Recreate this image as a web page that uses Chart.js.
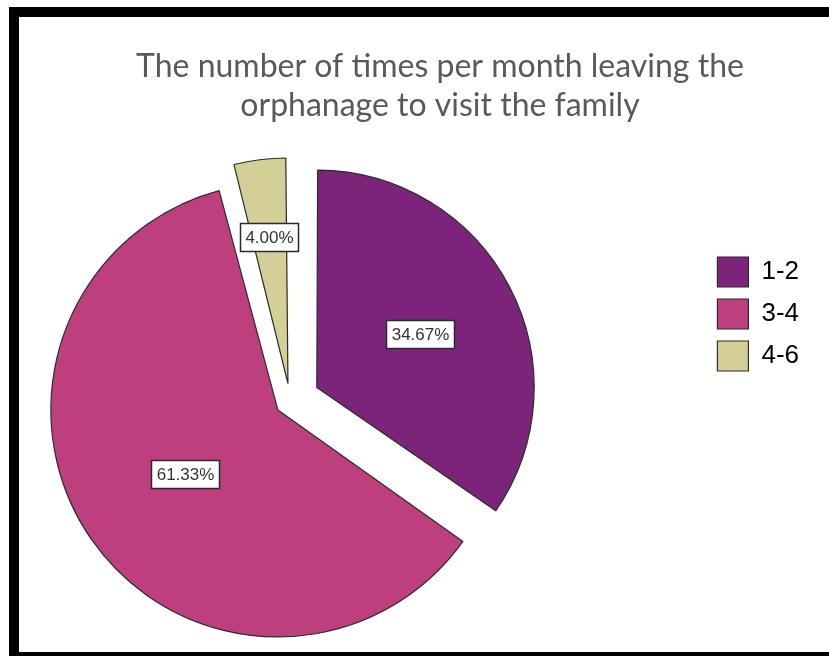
<!DOCTYPE html>
<html><head><meta charset="utf-8">
<script src="https://cdn.jsdelivr.net/npm/chart.js@4.4.1/dist/chart.umd.min.js"></script>
<style>
html,body{margin:0;padding:0;background:#fff;width:829px;height:656px;overflow:hidden;}
#frame{position:absolute;left:9px;top:7px;width:900px;height:635px;border:10px solid #000;}
#c{position:absolute;left:19px;top:17px;}
</style></head><body>
<div id="frame"></div>
<canvas id="c" width="810" height="635"></canvas>
<script>
const titleLines = ['The number of times per month leaving the', 'orphanage to visit the family'];
const categories = ['1-2', '3-4', '4-6'];
const percentValues = [34.67, 61.33, 4.00];
const sliceColors = ['#7b2479', '#bd3f7d', '#d4ce97'];

const sliceLabelPlugin = {
  id: 'sliceLabels',
  afterDatasetsDraw(chart, args, opts) {
    const ctx = chart.ctx;
    const meta = chart.getDatasetMeta(0);
    ctx.save();
    ctx.font = '17px "Liberation Sans", Arial, sans-serif';
    ctx.textAlign = 'center';
    ctx.textBaseline = 'middle';
    meta.data.forEach((arc, i) => {
      const p = arc.getProps(['x', 'y', 'startAngle', 'endAngle', 'outerRadius'], true);
      const mid = (p.startAngle + p.endAngle) / 2;
      const shift = (arc.options.offset || 0) / 4;
      const r = shift + p.outerRadius * opts.radial[i];
      const x = p.x + Math.cos(mid) * r;
      const y = p.y + Math.sin(mid) * r;
      const text = percentValues[i].toFixed(2) + '%';
      const w = Math.round(ctx.measureText(text).width + 10);
      const h = 28;
      const bx = Math.round(x - w / 2) + 0.5, by = Math.round(y - h / 2) + 0.5;
      ctx.fillStyle = '#fff';
      ctx.fillRect(bx, by, w, h);
      ctx.strokeStyle = '#2a2a2a';
      ctx.lineWidth = 1.5;
      ctx.strokeRect(bx, by, w, h);
      ctx.fillStyle = '#333';
      ctx.fillText(text, bx + w / 2, by + h / 2 + 1);
    });
    ctx.restore();
  }
};

new Chart(document.getElementById('c'), {
  type: 'pie',
  data: {
    labels: categories,
    datasets: [{
      data: percentValues,
      backgroundColor: sliceColors,
      borderColor: '#2b2b2b',
      borderWidth: 1.2,
      offset: [120, 60, 72],
      radius: 212,
      clip: false
    }]
  },
  options: {
    responsive: false,
    animation: false,
    layout: { padding: { left: 52, right: 20, top: 0, bottom: 41 } },
    plugins: {
      title: {
        display: true, text: titleLines, color: '#595959',
        font: { family: 'Lato', size: 32, weight: 'normal', lineHeight: 1.23 },
        padding: { top: 30, bottom: 66 }
      },
      subtitle: {
        display: true, position: 'right', text: ' ',
        font: { size: 10, lineHeight: 1 }, padding: { top: 0, bottom: 186 }
      },
      legend: {
        position: 'right', weight: 3000,
        labels: {
          boxWidth: 31, boxHeight: 30, padding: 12, color: '#000',
          font: { family: 'Liberation Sans', size: 26 }
        }
      },
      tooltip: { enabled: false },
      sliceLabels: { radial: [0.547, 0.531, 0.696] }
    }
  },
  plugins: [sliceLabelPlugin]
});
</script>
</body></html>
